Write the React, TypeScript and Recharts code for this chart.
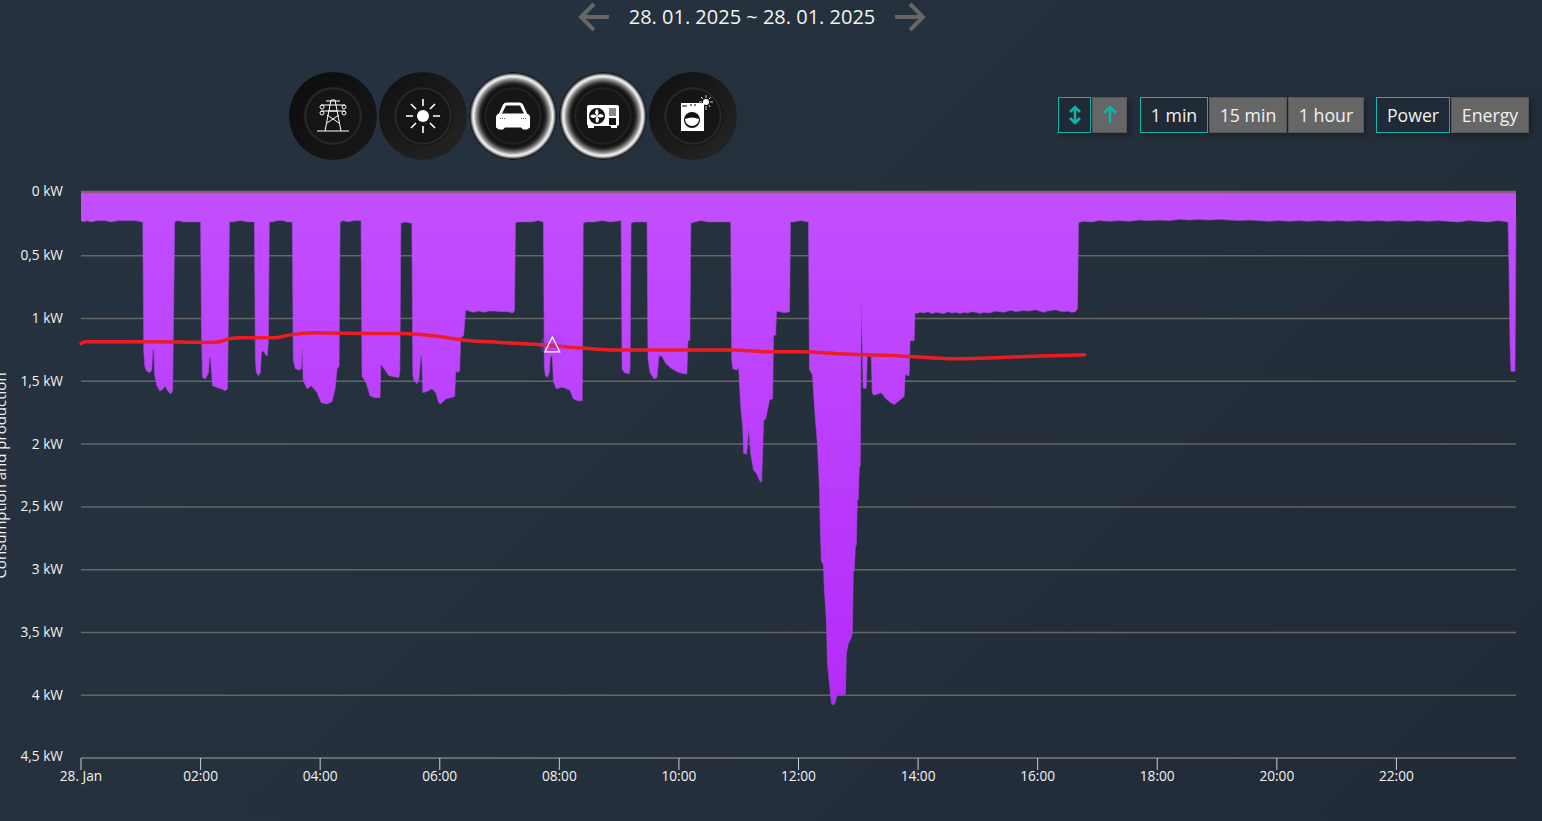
import React from 'react';
import {
  Area,
  CartesianGrid,
  ComposedChart,
  Line,
  ReferenceDot,
  ReferenceLine,
  XAxis,
  YAxis,
} from 'recharts';

// [minute of day, kW], one list per stretch of the day
const night1: number[][] = [[0, 0.22], [3, 0.23], [6, 0.22], [10, 0.23], [16, 0.22], [24, 0.22], [30, 0.23], [38, 0.22], [46, 0.22], [54, 0.22], [62, 0.23]];
const peak1: number[][] = [[63, 1.25], [64, 1.38], [66, 1.42], [69, 1.43], [71, 1.41], [72, 1.25], [73, 1.24], [74, 1.45], [76, 1.53], [79, 1.575], [82, 1.565], [84, 1.535], [87, 1.575], [90, 1.6], [92, 1.575], [93, 0.9], [94, 0.23]];
const idle1: number[][] = [[97, 0.22], [103, 0.23], [109, 0.23], [114, 0.23], [120, 0.23]];
const peak2: number[][] = [[121, 1.15], [122, 1.47], [125, 1.48], [128, 1.43], [129, 1.3], [130, 1.32], [132, 1.535], [137, 1.55], [141, 1.56], [145, 1.575], [147, 1.56], [148, 0.9], [149, 0.23]];
const idle2: number[][] = [[152, 0.23], [160, 0.22], [168, 0.23], [174, 0.23]];
const peak3: number[][] = [[175, 1.33], [176, 1.43], [178, 1.455], [180, 1.43], [181, 1.27], [183, 1.256], [185, 1.288], [187, 1.296], [188, 1.18], [189, 0.23]];
const idle3: number[][] = [[192, 0.23], [197, 0.22], [203, 0.22], [207, 0.23], [212, 0.23]];
const peak4: number[][] = [[213, 1.33], [215, 1.4], [219, 1.41], [221, 1.4], [222, 1.24], [223, 1.495], [227, 1.56], [231, 1.535], [237, 1.59], [241, 1.67], [247, 1.68], [252, 1.66], [255, 1.56], [257, 1.4], [259, 1.38], [260, 0.23]];
const idle4: number[][] = [[263, 0.22], [268, 0.23], [274, 0.22], [281, 0.22]];
const peak5: number[][] = [[282, 1.46], [286, 1.51], [290, 1.614], [295, 1.63], [300, 1.63], [301, 1.36], [304, 1.4], [309, 1.455], [319, 1.47], [320, 1.42], [321, 0.24]];
const idle5: number[][] = [[325, 0.23], [332, 0.24]];
const peak6: number[][] = [[333, 1.45], [334, 1.49], [337, 1.52], [339, 1.495], [341, 1.296], [342, 1.31], [343, 1.59], [347, 1.58], [352, 1.56], [356, 1.59], [359, 1.67], [361, 1.68], [366, 1.64], [371, 1.63], [375, 1.62], [376, 1.415], [378, 1.43], [380, 1.415], [381, 1.15], [384, 1.137], [386, 0.93], [389, 0.94], [394, 0.95], [399, 0.94], [404, 0.95], [409, 0.94], [414, 0.94], [424, 0.945], [428, 0.945], [433, 0.955], [435, 0.94], [436, 0.24]];
const idle6: number[][] = [[438, 0.23], [445, 0.23], [452, 0.23], [459, 0.22], [464, 0.23]];
const peak7: number[][] = [[465, 1.38], [466, 1.455], [468, 1.47], [470, 1.43], [471, 1.3], [473, 1.3], [474, 1.5], [477, 1.56], [481, 1.55], [485, 1.55], [491, 1.575], [494, 1.638], [498, 1.654], [503, 1.654], [504, 0.24]];
const idle7: number[][] = [[507, 0.23], [515, 0.23], [523, 0.22], [531, 0.23], [542, 0.22]];
const peak8: number[][] = [[543, 1.4], [545, 1.43], [550, 1.44], [551, 1.41], [552, 0.24]];
const idle8: number[][] = [[555, 0.23], [563, 0.23], [568, 0.23]];
const peak9: number[][] = [[569, 1.32], [571, 1.43], [575, 1.48], [578, 1.47], [580, 1.296], [583, 1.3], [587, 1.36], [593, 1.4], [600, 1.43], [606, 1.44], [608, 1.44], [609, 1.18], [611, 1.17], [612, 0.24]];
const idle9: number[][] = [[616, 0.23], [622, 0.22], [630, 0.23], [640, 0.23], [648, 0.23], [652, 0.23]];
const peak10: number[][] = [[653, 1.33], [654, 1.4], [658, 1.41], [660, 1.39], [662, 1.7], [664, 1.86], [665, 2.075], [668, 2.08], [670, 1.875], [672, 2.075], [675, 2.21], [678, 2.235], [681, 2.29], [683, 2.305], [685, 1.81], [687, 1.8], [691, 1.645], [694, 1.64], [695, 1.137], [697, 1.13], [698, 0.94], [706, 0.954], [711, 0.946], [712, 0.23]];
const idle10: number[][] = [[715, 0.23], [722, 0.22], [730, 0.23]];
const peak11: number[][] = [[731, 1.405], [734, 1.447], [736, 1.7], [739, 2.0], [741, 2.345], [742, 2.695], [743, 2.935], [745, 2.96], [746, 3.16], [748, 3.4], [749, 3.74], [750, 3.82], [752, 3.98], [753, 4.06], [755, 4.08], [757, 4.055], [759, 3.98], [761, 4.0], [767, 3.99], [768, 3.67], [770, 3.59], [773, 3.54], [774, 3.5], [775, 3.02], [776, 3.0], [777, 2.82], [778, 2.8], [779, 2.45], [780, 2.44], [781, 2.19], [782, 2.17], [783, 0.87], [785, 1.555], [788, 1.555], [789, 1.296], [793, 1.3], [794, 1.595], [796, 1.61], [803, 1.59], [808, 1.64], [811, 1.66], [816, 1.685], [823, 1.64], [826, 1.62], [827, 1.447], [831, 1.455], [832, 1.177], [836, 1.177], [837, 0.95]];
const plateau: number[][] = [[838, 0.96], [842, 0.95], [846, 0.955], [850, 0.945], [854, 0.96], [858, 0.95], [862, 0.955], [866, 0.96], [870, 0.945], [874, 0.955], [878, 0.95], [882, 0.96], [886, 0.95], [890, 0.955], [894, 0.945], [898, 0.95], [902, 0.96], [906, 0.95], [910, 0.955], [914, 0.95], [918, 0.94], [922, 0.945], [926, 0.95], [930, 0.94], [934, 0.935], [938, 0.945], [942, 0.94], [946, 0.935], [950, 0.94], [954, 0.935], [958, 0.93], [962, 0.94], [966, 0.95], [970, 0.94], [974, 0.935], [978, 0.93], [982, 0.94], [986, 0.945], [990, 0.94], [994, 0.95], [998, 0.945], [1000, 0.92], [1001, 0.235]];
const evening: number[][] = [[1006, 0.225], [1014, 0.23], [1022, 0.22], [1032, 0.225], [1042, 0.22], [1052, 0.225], [1062, 0.215], [1072, 0.22], [1082, 0.215], [1092, 0.22], [1102, 0.21], [1112, 0.215], [1122, 0.21], [1132, 0.215], [1142, 0.21], [1152, 0.215], [1162, 0.22], [1172, 0.215], [1182, 0.22], [1192, 0.225], [1202, 0.22], [1212, 0.225], [1222, 0.22], [1232, 0.225], [1242, 0.22], [1252, 0.225], [1262, 0.22], [1272, 0.225], [1282, 0.22], [1292, 0.225], [1302, 0.22], [1312, 0.225], [1322, 0.22], [1332, 0.225], [1342, 0.22], [1352, 0.225], [1362, 0.22], [1372, 0.225], [1382, 0.23], [1392, 0.22], [1402, 0.225], [1412, 0.23], [1422, 0.22], [1432, 0.23]];
const lastPeak: number[][] = [[1433, 0.6], [1434, 1.2], [1435, 1.42], [1439, 1.42], [1440, 0.2]];

const averageLine: number[][] = [[0, 1.2], [4, 1.185], [69, 1.185], [129, 1.19], [139, 1.185], [149, 1.16], [160, 1.153], [195, 1.153], [205, 1.137], [220, 1.12], [235, 1.113], [260, 1.117], [320, 1.12], [337, 1.125], [353, 1.137], [383, 1.17], [420, 1.19], [454, 1.205], [498, 1.232], [531, 1.25], [554, 1.25], [654, 1.25], [688, 1.264], [722, 1.264], [759, 1.28], [789, 1.288], [819, 1.296], [849, 1.31], [875, 1.32], [925, 1.31], [942, 1.304], [975, 1.296], [1007, 1.288]];

const markerPoint = [473, 1.21];
const yTicks = [0, 0.5, 1, 1.5, 2, 2.5, 3, 3.5, 4, 4.5];
const xTicks = [0, 120, 240, 360, 480, 600, 720, 840, 960, 1080, 1200, 1320];
const resolutionButtons = ['1 min', '15 min', '1 hour'];

const consumptionData = [
  night1, peak1, idle1, peak2, idle2, peak3, idle3, peak4, idle4, peak5, idle5, peak6, idle6,
  peak7, idle7, peak8, idle8, peak9, idle9, peak10, idle10, peak11, plateau, evening, lastPeak,
].flat().map(([minute, kw]) => ({ minute, kw }));

const averageData = averageLine.map(([minute, kw]) => ({ minute, average: kw }));

const FONT = '"Open Sans", sans-serif';

function formatKw(value: number): string {
  return `${String(value).replace('.', ',')} kW`;
}

function formatTime(value: number): string {
  if (value === 0) return '28. Jan';
  return `${String(value / 60).padStart(2, '0')}:00`;
}

function YTick({ x, y, payload }: any) {
  // the outer labels sit a little above their lines
  const shift = payload.value === 4.5 ? -2 : payload.value === 0 ? -1.5 : 0;
  return (
    <text x={x - 16} y={y + 4.5 + shift} textAnchor="end" fill="#f2f2f2" fontSize={13.7} fontFamily={FONT}>
      {formatKw(payload.value)}
    </text>
  );
}

function XTick({ x, y, payload }: any) {
  return (
    <text x={x} y={y + 9} textAnchor="middle" fill="#f2f2f2" fontSize={13.7} fontFamily={FONT}>
      {formatTime(payload.value)}
    </text>
  );
}

function Marker({ cx, cy }: any) {
  return (
    <g>
      <circle cx={cx} cy={cy} r={12} fill="#a33cf0" fillOpacity={0.3} />
      <path
        d={`M${cx} ${cy - 8}L${cx + 7.5} ${cy + 7}L${cx - 7.5} ${cy + 7}Z`}
        fill="none"
        stroke="#ffffff"
        strokeWidth={1.2}
      />
    </g>
  );
}

function RoundButton({ left, active, rim, children }: { left: number; active?: boolean; rim?: string; children: React.ReactNode }) {
  const outer = active
    ? 'radial-gradient(circle, #161616 0 26px, #242424 27.5px, #0e0e0e 30px, #2a2a2a 33px, #858585 36.5px, #f4f4f4 39.5px, #bdbdbd 41px, #444 42.5px, #111 43.5px, rgba(0,0,0,0) 44px)'
    : rim;
  return (
    <div
      style={{
        position: 'absolute',
        left,
        top: 71.5,
        width: 88,
        height: 88,
        borderRadius: '50%',
        background: outer,
      }}
    >
      {!active && (
        <div
          style={{
            position: 'absolute',
            left: 14,
            top: 14,
            width: 60,
            height: 60,
            borderRadius: '50%',
            background: 'radial-gradient(circle, #151515 0 26px, #2b2b2b 27.5px, #101010 30px)',
          }}
        />
      )}
      <svg width={88} height={88} style={{ position: 'absolute', left: 0, top: 0 }}>
        {children}
      </svg>
    </div>
  );
}

function TowerIcon() {
  return (
    <g stroke="#fff" strokeWidth={1} fill="none" transform="translate(0 1)">
      <path d="M28 58H60M36 58L42 27H46L52 58M38 50L50 42M50 50L38 42M40 38H48" />
      <path d="M32 32H56M32 38H56M37 28H51" />
      <circle cx={33} cy={34} r={2} />
      <circle cx={55} cy={34} r={2} />
      <circle cx={33} cy={40} r={2} />
      <circle cx={55} cy={40} r={2} />
    </g>
  );
}

function SunIcon() {
  return (
    <g stroke="#fff" strokeWidth={1.6}>
      <circle cx={44} cy={44} r={6} fill="#fff" stroke="none" />
      <path d="M44 27V34M44 54V61M27 44H34M54 44H61M32 32L37 37M51 51L56 56M56 32L51 37M37 51L32 56" />
    </g>
  );
}

function CarIcon() {
  return (
    <g transform="translate(0 1.5)">
      <path
        d="M27 54V44Q27 41 30 40L34 31Q35 29 38 29H50Q53 29 54 31L58 40Q61 41 61 44V54L58 56H54L52 54H36L34 56H30Z"
        fill="#fff"
      />
      <path d="M33 40L37 32H51L55 40Z" fill="#1a1a1a" />
      <path d="M31 45H36M52 45H57" stroke="#555" strokeWidth={1} strokeDasharray="1 1" />
    </g>
  );
}

function HeatPumpIcon() {
  return (
    <g>
      <rect x={28} y={33} width={32} height={21} rx={2} fill="#fff" />
      <rect x={29} y={54} width={6} height={2} fill="#fff" />
      <rect x={52} y={54} width={6} height={2} fill="#fff" />
      <circle cx={38} cy={44} r={8} fill="#111" />
      <path d="M38 44Q34 40 38 37Q41 40 38 44Q42 40 45 44Q42 47 38 44Q42 48 38 51Q35 48 38 44Q34 48 31 44Q34 41 38 44Z" fill="#fff" />
      <rect x={50} y={36} width={7} height={8} fill="#888" />
      <rect x={50} y={46} width={7} height={7} fill="#111" />
    </g>
  );
}

function WasherIcon() {
  return (
    <g>
      <rect x={32} y={31} width={23} height={28} fill="#fff" />
      <path d="M33 34H38M41 33H43M45 33H47" stroke="#555" strokeWidth={1.5} />
      <circle cx={43} cy={48} r={8} fill="#111" />
      <path d="M36 47Q43 44 50 47A7 7 0 0 1 36 47Z" fill="#fff" />
      <circle cx={57} cy={30} r={3} fill="#fff" />
      <path d="M57 23V26M57 34V38M50 30H53M61 30H64M52 25L54 27M62 25L60 27M53 35L54 33M61 35L60 33" stroke="#fff" strokeWidth={0.8} />
    </g>
  );
}

function TextButton({ left, width, label, active }: { left: number; width: number; label: React.ReactNode; active?: boolean }) {
  return (
    <div
      style={{
        position: 'absolute',
        left,
        top: 97,
        width,
        height: 36,
        boxSizing: 'border-box',
        border: active ? '1px solid #10b5ac' : '1px solid #555',
        background: active ? '#1f2a36' : '#666666',
        boxShadow: '3px 3px 6px rgba(0,0,0,0.3)',
        color: '#f2f2f2',
        fontFamily: FONT,
        fontSize: 17.7,
        display: 'flex',
        alignItems: 'center',
        justifyContent: 'center',
      }}
    >
      {label}
    </div>
  );
}

function ArrowIcon({ both }: { both?: boolean }) {
  return (
    <svg width={20} height={24}>
      <path
        d={both ? 'M10 4V20M5 9L10 4L15 9M5 15L10 20L15 15' : 'M10 4V20M4 10L10 4L16 10'}
        stroke="#12b3a6"
        strokeWidth={2.6}
        fill="none"
      />
    </svg>
  );
}

function NavArrow({ left, flip }: { left: number; flip?: boolean }) {
  return (
    <svg width={32} height={32} style={{ position: 'absolute', left, top: 1, transform: flip ? 'scaleX(-1)' : undefined }}>
      <path d="M31 16H3M16 3L3 16L16 29" stroke="#666" strokeWidth={4} fill="none" />
    </svg>
  );
}

export default function App() {
  return (
    <div
      style={{
        position: 'fixed',
        left: 0,
        top: 0,
        width: 1542,
        height: 821,
        overflow: 'hidden',
        background: 'linear-gradient(135deg, #26323f 0%, #25303d 50%, #212b37 100%)',
      }}
    >
      <ComposedChart
        width={1542}
        height={821}
        margin={{ top: 193, right: 26, bottom: 23, left: 0 }}
        style={{ position: 'absolute', left: 0, top: 0 }}
      >
        <defs>
          <linearGradient id="consumptionFill" x1="0" y1="0" x2="0" y2="1">
            <stop offset="0%" stopColor="#c24fff" />
            <stop offset="100%" stopColor="#b42bf9" />
          </linearGradient>
        </defs>
        <CartesianGrid vertical={false} stroke="#666666" strokeWidth={1.5} />
        <XAxis
          dataKey="minute"
          type="number"
          domain={[0, 1440]}
          ticks={xTicks}
          interval={0}
          height={40}
          tick={<XTick />}
          tickSize={12}
          tickLine={{ stroke: '#c5cfdc' }}
          axisLine={{ stroke: '#6e6e6e', strokeWidth: 1.5 }}
        />
        <YAxis
          type="number"
          reversed
          width={81}
          domain={[0, 4.5]}
          ticks={yTicks}
          interval={0}
          tick={<YTick />}
          tickSize={0}
          tickLine={false}
          axisLine={false}
          label={{
            value: 'Consumption and production',
            angle: -90,
            position: 'insideLeft',
            dx: -4,
            fill: '#f2f2f2',
            fontSize: 15,
            fontFamily: FONT,
            style: { textAnchor: 'middle' },
          }}
        />
        <Area
          data={consumptionData}
          dataKey="kw"
          type="linear"
          fill="url(#consumptionFill)"
          fillOpacity={1}
          stroke="#a44ad8"
          strokeOpacity={0.6}
          strokeWidth={1}
          dot={false}
          activeDot={false}
          isAnimationActive={false}
        />
        <ReferenceLine y={0} stroke="#c0508c" strokeWidth={1.5} />
        <ReferenceLine y={-0.012} ifOverflow="visible" stroke="#6b6b6b" strokeWidth={1.5} />
        <Line
          data={averageData}
          dataKey="average"
          type="monotone"
          stroke="#ec1c24"
          strokeWidth={3.5}
          strokeLinecap="round"
          dot={false}
          activeDot={false}
          isAnimationActive={false}
        />
        <ReferenceDot x={markerPoint[0]} y={markerPoint[1]} shape={<Marker />} />
      </ComposedChart>

      <NavArrow left={578} />
      <div
        style={{
          position: 'absolute',
          left: 552,
          top: 3,
          width: 400,
          textAlign: 'center',
          color: '#f4f4f4',
          fontFamily: FONT,
          fontSize: 20,
          lineHeight: '28px',
        }}
      >
        28. 01. 2025 ~ 28. 01. 2025
      </div>
      <NavArrow left={894} flip />

      <RoundButton left={289} rim="linear-gradient(135deg, #0c0c0c, #181818)"><TowerIcon /></RoundButton>
      <RoundButton left={379} rim="linear-gradient(135deg, #0f0f0f, #262626)"><SunIcon /></RoundButton>
      <RoundButton left={469} active><CarIcon /></RoundButton>
      <RoundButton left={559} active><HeatPumpIcon /></RoundButton>
      <RoundButton left={649} rim="linear-gradient(135deg, #0f0f0f, #262626)"><WasherIcon /></RoundButton>

      <TextButton left={1058} width={33} active label={<ArrowIcon both />} />
      <TextButton left={1092} width={35} label={<ArrowIcon />} />
      <TextButton left={1140} width={68} active label={resolutionButtons[0]} />
      <TextButton left={1209} width={78} label={resolutionButtons[1]} />
      <TextButton left={1288} width={76} label={resolutionButtons[2]} />
      <TextButton left={1376} width={74} active label="Power" />
      <TextButton left={1451} width={78} label="Energy" />
    </div>
  );
}
